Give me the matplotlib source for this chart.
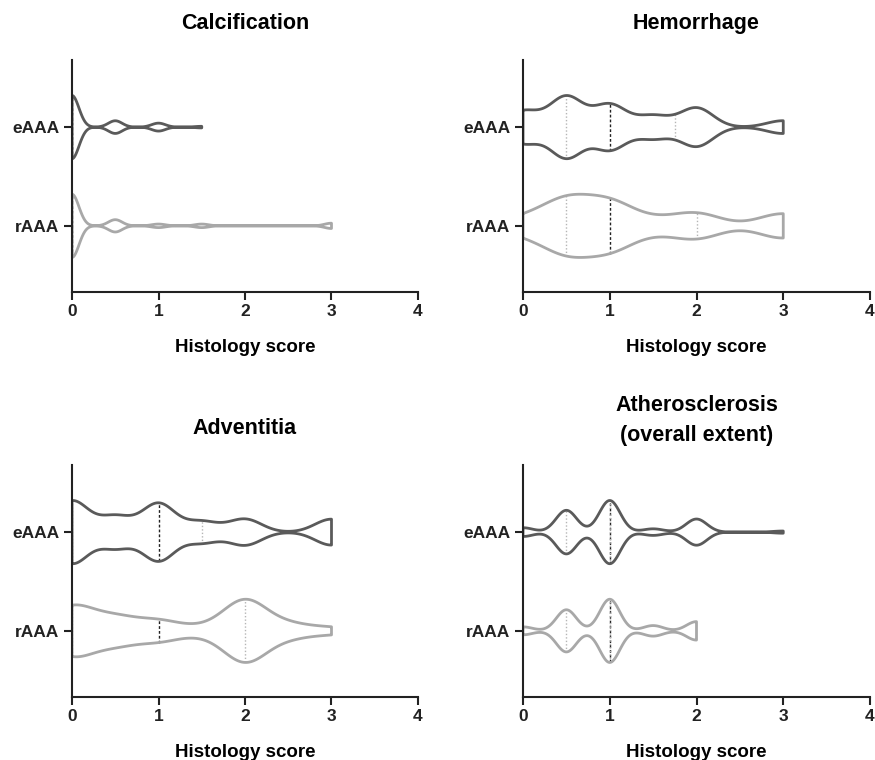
"""Violin plots of histology scores, eAAA vs rAAA, four panels."""

import matplotlib.pyplot as plt
import numpy as np

plt.rcParams.update({
    "font.family": ["Liberation Sans", "DejaVu Sans"],
    "font.weight": "bold",
    "axes.spines.top": False,
    "axes.spines.right": False,
    "axes.linewidth": 1.5,
    "axes.edgecolor": "#222222",
    "xtick.major.width": 1.5,
    "ytick.major.width": 1.5,
    "xtick.major.size": 6,
    "ytick.major.size": 6,
})

SCORES = [0, 0.5, 1, 1.5, 2, 2.5, 3]
GROUPS = ["eAAA", "rAAA"]
TITLES = ["Calcification", "Hemorrhage", "Adventitia",
          "Atherosclerosis\n(overall extent)"]
X_TICKS = [0, 1, 2, 3, 4]

# patients per histology score (0 .. 3 in steps of 0.5)
calc_e = [40, 8, 5, 1, 0, 0, 0]
calc_r = [36, 7, 2, 2, 0, 0, 3]
hem_e = [10, 19, 14, 7, 12, 0, 4]
hem_r = [3, 10, 9, 2, 5, 0, 5]
adv_e = [12, 6, 11, 4, 5, 0, 5]
adv_r = [15, 8, 6, 2, 19, 4, 2]
ath_e = [4, 20, 29, 3, 12, 0, 1]
ath_r = [3, 16, 24, 4, 7, 0, 0]

# quartiles as drawn (Q1, median, Q3)
calc_e_q = [0, 0, 0]
calc_r_q = [0, 0, 0]
hem_e_q = [0.5, 1, 1.75]
hem_r_q = [0.5, 1, 2]
adv_e_q = [0, 1, 1.5]
adv_r_q = [0, 1, 2]
ath_e_q = [0.5, 1, 1]
ath_r_q = [0.5, 1, 1]

# kernel bandwidth (in score units) of each violin
calc_bw = [0.08, 0.08]
hem_bw = [0.19, 0.28]
adv_bw = [0.19, 0.25]
ath_bw = [0.12, 0.115]

COLORS = {"eAAA": "#5a5a5a", "rAAA": "#a8a8a8"}
POS = {"eAAA": 1, "rAAA": 0}
WIDTH = 0.64


def draw_violin(ax, counts, group, bw, quart):
    data = np.repeat(SCORES, counts).astype(float)
    pos = POS[group]
    factor = bw / np.std(data, ddof=1)
    parts = ax.violinplot([data], positions=[pos], orientation="horizontal",
                          widths=WIDTH, showextrema=False, bw_method=factor,
                          points=500)
    body = parts["bodies"][0]
    body.set_alpha(1)
    body.set_facecolor("none")
    body.set_edgecolor(COLORS[group])
    body.set_linewidth(2.0)
    body.set_zorder(3)

    # quartile lines span the violin at that score
    verts = body.get_paths()[0].vertices
    upper = verts[verts[:, 1] > pos]
    upper = upper[np.argsort(upper[:, 0])]
    for i, q in enumerate(quart):
        half = np.interp(q, upper[:, 0], upper[:, 1]) - pos
        if i == 1:
            ax.plot([q, q], [pos - half, pos + half], color="#222222",
                    lw=1.0, ls=(0, (2, 1.5)), zorder=2)
        else:
            ax.plot([q, q], [pos - half, pos + half], color="#b5b5b5",
                    lw=1.0, ls=(0, (1, 1.5)), zorder=2)


panels = [
    (calc_e, calc_r, calc_e_q, calc_r_q, calc_bw),
    (hem_e, hem_r, hem_e_q, hem_r_q, hem_bw),
    (adv_e, adv_r, adv_e_q, adv_r_q, adv_bw),
    (ath_e, ath_r, ath_e_q, ath_r_q, ath_bw),
]

fig = plt.figure(figsize=(8.75, 7.6), dpi=100)
boxes = [
    [0.0823, 0.6158, 0.3954, 0.3053],
    [0.5977, 0.6158, 0.3966, 0.3053],
    [0.0823, 0.0829, 0.3954, 0.3053],
    [0.5977, 0.0829, 0.3966, 0.3053],
]

for box, title, (e, r, eq, rq, bw) in zip(boxes, TITLES, panels):
    ax = fig.add_axes(box)
    draw_violin(ax, e, "eAAA", bw[0], eq)
    draw_violin(ax, r, "rAAA", bw[1], rq)
    ax.set_xlim(0, 4)
    ax.set_ylim(-0.67, 1.68)
    ax.set_xticks(X_TICKS)
    ax.set_yticks([POS[g] for g in GROUPS])
    ax.set_yticklabels(GROUPS)
    ax.tick_params(labelsize=12.5, pad=3, colors="#222222")
    for lab in ax.get_xticklabels() + ax.get_yticklabels():
        lab.set_fontweight("bold")
    ax.set_xlabel("Histology score", fontsize=13.5, fontweight="bold", labelpad=14)
    pad = 17 if "\n" in title else 22
    ax.set_title(title, fontsize=15.5, fontweight="bold", pad=pad, linespacing=1.6)
    for side in ("left", "bottom"):
        ax.spines[side].set_zorder(4)

fig.savefig("out.png", dpi=100)
